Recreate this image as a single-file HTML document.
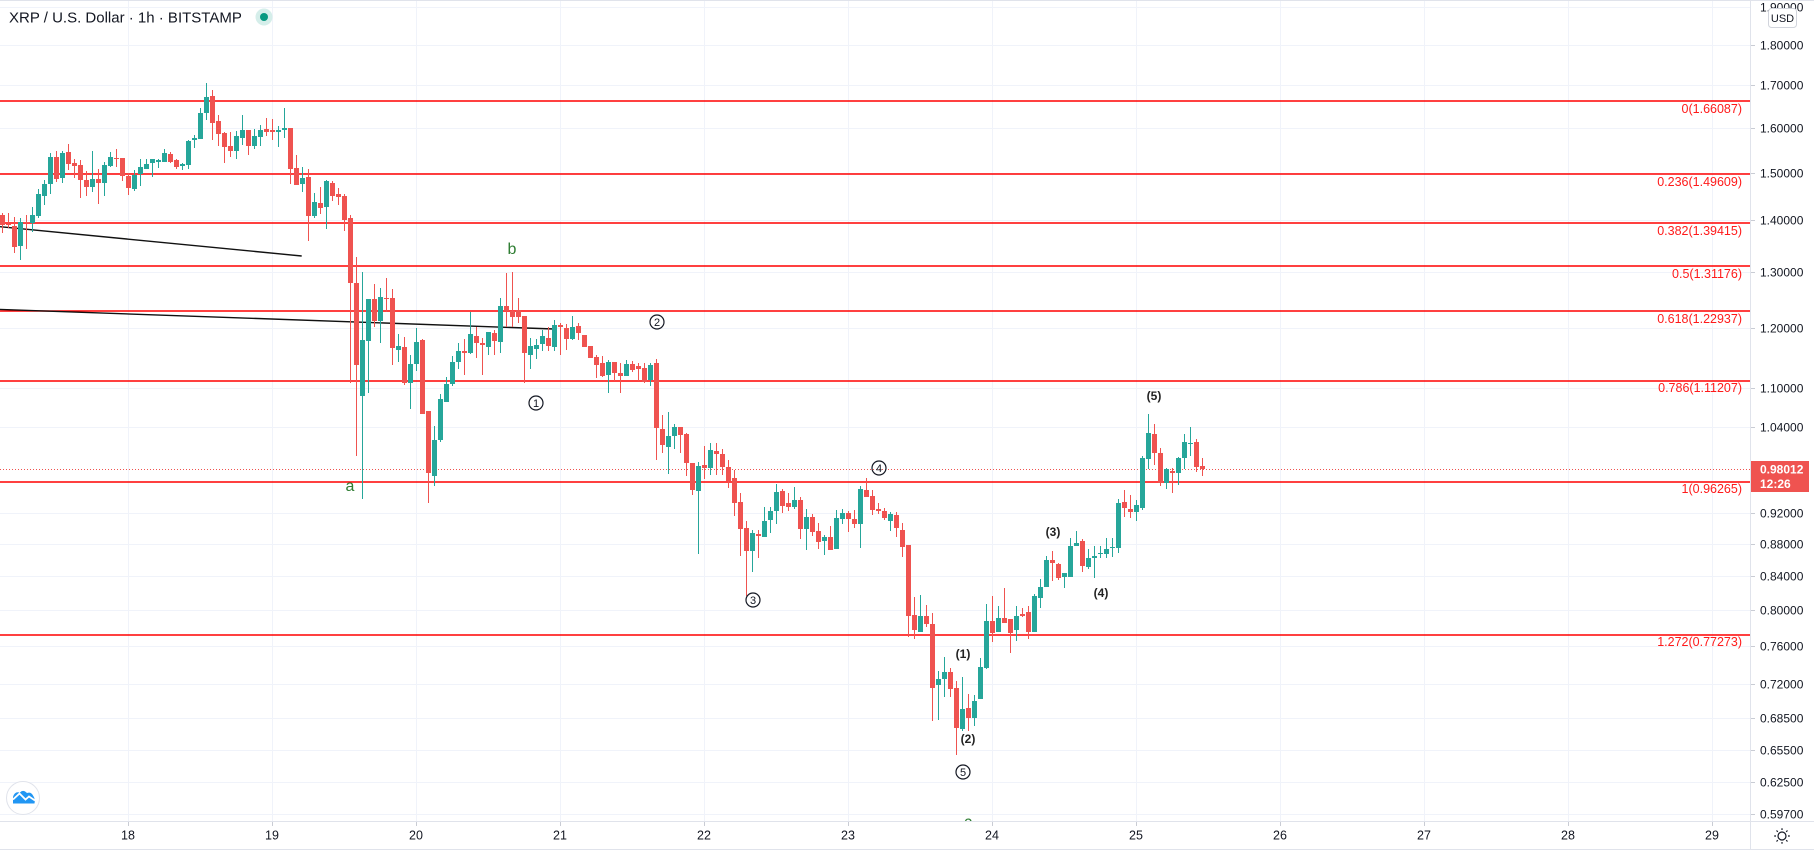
<!DOCTYPE html>
<html><head><meta charset="utf-8"><style>
html,body{margin:0;padding:0;background:#fff;}
body{width:1814px;height:850px;overflow:hidden;}
svg{display:block;font-family:"Liberation Sans",Arial,sans-serif;}
</style></head><body>
<svg width="1814" height="850" viewBox="0 0 1814 850" xmlns="http://www.w3.org/2000/svg">
<defs><clipPath id="pc"><rect x="0" y="0" width="1750" height="821"/></clipPath></defs>
<rect width="1814" height="850" fill="#fff"/>
<!-- grid -->
<g stroke="#f0f3fa" stroke-width="1">
<path d="M0 7.5H1750M0 45.5H1750M0 85.5H1750M0 128.5H1750M0 173.5H1750M0 220.5H1750M0 272.5H1750M0 328.5H1750M0 388.5H1750M0 427.5H1750M0 513.5H1750M0 544.5H1750M0 576.5H1750M0 610.5H1750M0 646.5H1750M0 684.5H1750M0 718.5H1750M0 750.5H1750M0 782.5H1750M0 814.5H1750"/>
<path d="M128.5 0V821M272.5 0V821M416.5 0V821M560.5 0V821M704.5 0V821M848.5 0V821M992.5 0V821M1136.5 0V821M1280.5 0V821M1424.5 0V821M1568.5 0V821M1712.5 0V821"/>
</g>
<g clip-path="url(#pc)">
<!-- fib lines -->
<g stroke="#ff0000" stroke-width="1.4">
<path d="M0 101H1750M0 174H1750M0 223H1750M0 266H1750M0 311H1750M0 381H1750M0 482H1750M0 635H1750"/>
</g>
<g fill="#ff1a1a" font-size="12.5" text-anchor="end">
<text x="1742" y="113">0(1.66087)</text>
<text x="1742" y="186">0.236(1.49609)</text>
<text x="1742" y="235">0.382(1.39415)</text>
<text x="1742" y="278">0.5(1.31176)</text>
<text x="1742" y="323">0.618(1.22937)</text>
<text x="1742" y="392">0.786(1.11207)</text>
<text x="1742" y="493">1(0.96265)</text>
<text x="1742" y="646">1.272(0.77273)</text>
</g>
<!-- current price dotted -->
<path d="M0 469.5H1750" stroke="#ef5350" stroke-width="1" stroke-dasharray="1 2"/>
<!-- trend lines -->
<path d="M0 226.7L301.7 256M0 309.4L554 329" stroke="#111" stroke-width="1.4" fill="none"/>
<!-- candles green -->
<path stroke="#26a69a" stroke-width="1" fill="none" d="M20.5 218V260M32.5 207V232M38.5 189V218M44.5 180V205M50.5 153V194M62.5 151V183M92.5 151V192M104.5 162V196M110.5 152V167M134.5 170V191M140.5 159V186M146.5 159V169M152.5 159V177M158.5 159V168M164.5 149V162M182.5 163V170M188.5 140V169M194.5 135V148M200.5 108V139M206.5 83V120M236.5 131V159M242.5 115V145M254.5 129V149M260.5 125V146M278.5 126V147M284.5 108V138M302.5 167V192M314.5 193V218M326.5 180V229M362.5 272V499M368.5 299V393M380.5 288V343M398.5 334V362M410.5 355V409M416.5 328V371M434.5 426V486M440.5 394V442M446.5 377V402M452.5 356V386M458.5 343V369M470.5 312V354M488.5 332V355M500.5 298V353M530.5 338V369M536.5 339V359M542.5 330V351M554.5 320V351M572.5 316V340M608.5 360V393M626.5 360V376M650.5 363V386M668.5 412V474M674.5 424V449M698.5 462V554M710.5 443V475M752.5 530V572M764.5 507V537M770.5 507V533M776.5 484V524M794.5 487V509M806.5 509V550M824.5 535V555M836.5 510V549M842.5 509V524M860.5 486V548M890.5 512V531M920.5 595V632M938.5 671V720M944.5 657V697M962.5 677V731M974.5 695V726M980.5 658V699M986.5 604V669M998.5 606V632M1016.5 606V641M1034.5 594V632M1040.5 579V608M1046.5 556V587M1064.5 573V588M1070.5 538V577M1076.5 531V546M1088.5 549V569M1094.5 546V578M1100.5 546V558M1106.5 538V558M1112.5 538V557M1118.5 499V553M1136.5 500V521M1142.5 456V510M1148.5 414V469M1166.5 468V489M1178.5 457V485M1184.5 434V469M1190.5 427V456"/>
<path fill="#26a69a" d="M18 222h5v24h-5zM30 215h5v8h-5zM36 194h5v22h-5zM42 184h5v12h-5zM48 157h5v27h-5zM60 153h5v25h-5zM90 179h5v8h-5zM102 165h5v18h-5zM108 157h5v9h-5zM132 175h5v14h-5zM138 167h5v7h-5zM144 164h5v5h-5zM150 159h5v4h-5zM156 160h5v2h-5zM162 153h5v9h-5zM180 164h5v2h-5zM186 141h5v24h-5zM192 138h5v2h-5zM198 113h5v26h-5zM204 97h5v16h-5zM234 136h5v15h-5zM240 130h5v8h-5zM252 136h5v10h-5zM258 130h5v7h-5zM276 130h5v2h-5zM282 128h5v2h-5zM300 178h5v6h-5zM312 202h5v14h-5zM324 181h5v26h-5zM360 340h5v56h-5zM366 299h5v42h-5zM378 297h5v24h-5zM396 346h5v4h-5zM408 364h5v19h-5zM414 342h5v22h-5zM432 440h5v36h-5zM438 399h5v41h-5zM444 384h5v18h-5zM450 362h5v22h-5zM456 351h5v11h-5zM468 334h5v19h-5zM486 332h5v15h-5zM498 306h5v36h-5zM528 346h5v9h-5zM534 345h5v4h-5zM540 336h5v8h-5zM552 325h5v22h-5zM570 327h5v12h-5zM606 362h5v13h-5zM624 364h5v12h-5zM648 365h5v15h-5zM666 436h5v11h-5zM672 427h5v9h-5zM696 466h5v25h-5zM708 450h5v18h-5zM750 533h5v18h-5zM762 521h5v16h-5zM768 511h5v9h-5zM774 492h5v19h-5zM792 500h5v7h-5zM804 517h5v12h-5zM822 537h5v4h-5zM834 518h5v31h-5zM840 513h5v6h-5zM858 489h5v35h-5zM888 514h5v7h-5zM918 616h5v16h-5zM936 679h5v6h-5zM942 672h5v7h-5zM960 709h5v20h-5zM972 701h5v17h-5zM978 667h5v32h-5zM984 621h5v47h-5zM996 618h5v14h-5zM1014 616h5v14h-5zM1032 596h5v36h-5zM1038 587h5v11h-5zM1044 560h5v27h-5zM1062 573h5v4h-5zM1068 546h5v31h-5zM1074 543h5v3h-5zM1086 558h5v9h-5zM1092 556h5v2h-5zM1098 553h5v1h-5zM1104 549h5v5h-5zM1110 547h5v1h-5zM1116 503h5v45h-5zM1134 505h5v7h-5zM1140 458h5v50h-5zM1146 433h5v26h-5zM1164 469h5v14h-5zM1176 458h5v15h-5zM1182 442h5v16h-5zM1188 443h5v1h-5z"/>
<!-- candles red -->
<path stroke="#ef5350" stroke-width="1" fill="none" d="M2.5 213V233M8.5 213V228M14.5 217V253M26.5 215V249M56.5 151V182M68.5 144V170M74.5 159V178M80.5 160V198M86.5 171V196M98.5 169V204M116.5 149V167M122.5 158V181M128.5 173V195M170.5 152V163M176.5 159V169M212.5 90V140M218.5 115V146M224.5 132V163M230.5 132V157M248.5 130V155M266.5 118V136M272.5 119V140M290.5 128V184M296.5 155V185M308.5 169V241M320.5 187V214M332.5 181V201M338.5 188V205M344.5 194V231M350.5 215V383M356.5 257V456M374.5 284V327M386.5 278V312M392.5 289V365M404.5 337V385M422.5 339V414M428.5 411V503M464.5 339V375M476.5 327V358M482.5 338V375M494.5 330V355M506.5 273V327M512.5 272V327M518.5 298V323M524.5 316V383M548.5 327V351M560.5 323V355M566.5 324V350M578.5 323V340M584.5 335V347M590.5 346V358M596.5 355V378M602.5 356V377M614.5 362V381M620.5 363V393M632.5 361V372M638.5 363V381M644.5 363V383M656.5 359V460M662.5 415V453M680.5 427V453M686.5 433V476M692.5 463V495M704.5 446V479M716.5 443V475M722.5 449V475M728.5 460V488M734.5 470V516M740.5 493V556M746.5 521V596M758.5 530V558M782.5 489V513M788.5 493V511M800.5 497V539M812.5 514V536M818.5 523V549M830.5 526V550M848.5 511V532M854.5 510V528M866.5 478V497M872.5 490V515M878.5 503V514M884.5 508V520M896.5 512V537M902.5 523V557M908.5 545V637M914.5 597V639M926.5 605V627M932.5 613V721M950.5 668V697M956.5 681V755M968.5 694V731M992.5 596V642M1004.5 588V623M1010.5 619V653M1022.5 608V617M1028.5 606V639M1052.5 551V581M1058.5 563V580M1082.5 539V572M1124.5 490V517M1130.5 495V518M1154.5 424V465M1160.5 448V486M1172.5 468V493M1196.5 439V472M1202.5 458V476"/>
<path fill="#ef5350" d="M0 215h5v10h-5zM6 224h5v1h-5zM12 226h5v21h-5zM24 222h5v1h-5zM54 157h5v22h-5zM66 152h5v12h-5zM72 163h5v3h-5zM78 165h5v15h-5zM84 180h5v7h-5zM96 179h5v4h-5zM114 158h5v1h-5zM120 158h5v18h-5zM126 176h5v12h-5zM168 154h5v8h-5zM174 160h5v7h-5zM210 96h5v27h-5zM216 121h5v13h-5zM222 133h5v14h-5zM228 146h5v5h-5zM246 130h5v16h-5zM264 129h5v3h-5zM270 130h5v2h-5zM288 128h5v41h-5zM294 168h5v17h-5zM306 177h5v39h-5zM318 203h5v5h-5zM330 183h5v13h-5zM336 194h5v3h-5zM342 196h5v24h-5zM348 218h5v65h-5zM354 283h5v82h-5zM372 299h5v22h-5zM384 298h5v1h-5zM390 298h5v50h-5zM402 347h5v36h-5zM420 340h5v74h-5zM426 411h5v62h-5zM462 351h5v2h-5zM474 336h5v7h-5zM480 343h5v2h-5zM492 333h5v8h-5zM504 306h5v5h-5zM510 311h5v6h-5zM516 310h5v7h-5zM522 316h5v37h-5zM546 338h5v8h-5zM558 325h5v2h-5zM564 328h5v11h-5zM576 326h5v7h-5zM582 335h5v12h-5zM588 346h5v12h-5zM594 357h5v8h-5zM600 363h5v13h-5zM612 362h5v11h-5zM618 373h5v3h-5zM630 364h5v6h-5zM636 366h5v3h-5zM642 368h5v14h-5zM654 363h5v65h-5zM660 429h5v16h-5zM678 427h5v8h-5zM684 434h5v29h-5zM690 463h5v27h-5zM702 465h5v3h-5zM714 451h5v3h-5zM720 454h5v13h-5zM726 467h5v14h-5zM732 478h5v25h-5zM738 502h5v27h-5zM744 528h5v23h-5zM756 534h5v2h-5zM780 491h5v15h-5zM786 503h5v4h-5zM798 500h5v29h-5zM810 517h5v15h-5zM816 531h5v11h-5zM828 537h5v13h-5zM846 513h5v6h-5zM852 519h5v5h-5zM864 490h5v7h-5zM870 496h5v14h-5zM876 509h5v2h-5zM882 511h5v7h-5zM894 515h5v13h-5zM900 530h5v17h-5zM906 545h5v71h-5zM912 615h5v15h-5zM924 616h5v8h-5zM930 624h5v64h-5zM948 672h5v17h-5zM954 688h5v40h-5zM966 708h5v10h-5zM990 621h5v12h-5zM1002 618h5v5h-5zM1008 619h5v14h-5zM1020 614h5v2h-5zM1026 612h5v20h-5zM1050 560h5v3h-5zM1056 564h5v14h-5zM1080 541h5v25h-5zM1122 502h5v6h-5zM1128 509h5v3h-5zM1152 434h5v19h-5zM1158 453h5v30h-5zM1170 471h5v2h-5zM1194 442h5v25h-5zM1200 466h5v3h-5z"/>
<!-- wave labels -->
<g fill="#2e7d32" font-size="16" text-anchor="middle">
<text x="350" y="491">a</text>
<text x="512" y="254">b</text>
<text x="968" y="827">c</text>
</g>
<g fill="none" stroke="#131722" stroke-width="1.2">
<circle cx="536" cy="403" r="7"/>
<circle cx="657" cy="322" r="7"/>
<circle cx="753" cy="600" r="7"/>
<circle cx="879" cy="468" r="7"/>
<circle cx="963" cy="772" r="7"/>
</g>
<g fill="#131722" font-size="11" text-anchor="middle">
<text x="536" y="407">1</text>
<text x="657" y="326">2</text>
<text x="753" y="604">3</text>
<text x="879" y="472">4</text>
<text x="963" y="776">5</text>
</g>
<g fill="#222" font-size="12" text-anchor="middle" font-weight="bold">
<text x="963" y="658">(1)</text>
<text x="968" y="743">(2)</text>
<text x="1053" y="536">(3)</text>
<text x="1101" y="597">(4)</text>
<text x="1154" y="400">(5)</text>
</g>
</g>
<!-- title -->
<text x="9" y="22.5" font-size="15" fill="#131722">XRP / U.S. Dollar · 1h · BITSTAMP</text>
<circle cx="264" cy="17" r="8.5" fill="#d5eeea"/>
<circle cx="264" cy="17" r="4" fill="#089981"/>
<!-- logo -->
<circle cx="23" cy="798" r="16.5" fill="#fff" stroke="#e0e3eb" stroke-width="1"/>
<path d="M13 803.5L13 797Q14.5 791 20 792.5Q23 789 27 793Q31 791.5 33 795.5Q35.5 799 34.5 803.5Z" fill="#2196f3"/>
<path d="M13 799.5L19.5 793.5L25.5 799.5L29 796.5L35 800.5" stroke="#fff" stroke-width="1.8" fill="none"/>
<!-- axes borders -->
<g stroke="#e0e3eb" stroke-width="1">
<path d="M0 0.5H1814M0 821.5H1814M0 849.5H1814M1750.5 0V850"/>
</g>
<!-- price axis ticks -->
<g stroke="#c9ccd4" stroke-width="1">
<path d="M1751 45.5h4M1751 85.5h4M1751 128.5h4M1751 173.5h4M1751 220.5h4M1751 272.5h4M1751 328.5h4M1751 388.5h4M1751 427.5h4M1751 513.5h4M1751 544.5h4M1751 576.5h4M1751 610.5h4M1751 646.5h4M1751 684.5h4M1751 718.5h4M1751 750.5h4M1751 782.5h4M1751 814.5h4"/>
<path d="M128.5 822v4M272.5 822v4M416.5 822v4M560.5 822v4M704.5 822v4M848.5 822v4M992.5 822v4M1136.5 822v4M1280.5 822v4M1424.5 822v4M1568.5 822v4M1712.5 822v4"/>
</g>
<g fill="#131722" font-size="12">
<text x="1760" y="11.5">1.90000</text>
<text x="1760" y="49.5">1.80000</text>
<text x="1760" y="89.5">1.70000</text>
<text x="1760" y="132.5">1.60000</text>
<text x="1760" y="177.5">1.50000</text>
<text x="1760" y="224.5">1.40000</text>
<text x="1760" y="276.5">1.30000</text>
<text x="1760" y="332.5">1.20000</text>
<text x="1760" y="392.5">1.10000</text>
<text x="1760" y="431.5">1.04000</text>
<text x="1760" y="517.5">0.92000</text>
<text x="1760" y="548.5">0.88000</text>
<text x="1760" y="580.5">0.84000</text>
<text x="1760" y="614.5">0.80000</text>
<text x="1760" y="650.5">0.76000</text>
<text x="1760" y="688.5">0.72000</text>
<text x="1760" y="722.5">0.68500</text>
<text x="1760" y="754.5">0.65500</text>
<text x="1760" y="786.5">0.62500</text>
<text x="1760" y="818.5">0.59700</text>
</g>
<!-- USD badge -->
<rect x="1768.5" y="8.5" width="28" height="19" rx="3" fill="#fff" stroke="#d1d4dc"/>
<text x="1782.5" y="22" font-size="11" fill="#131722" text-anchor="middle">USD</text>
<!-- price box -->
<rect x="1751" y="461" width="58" height="31" fill="#ef5350"/>
<text x="1760" y="473.5" font-size="12" fill="#fff" font-weight="bold">0.98012</text>
<text x="1760" y="488" font-size="12" fill="#fff" font-weight="bold">12:26</text>
<!-- time labels -->
<g fill="#131722" font-size="12.5" text-anchor="middle">
<text x="128" y="839.5">18</text>
<text x="272" y="839.5">19</text>
<text x="416" y="839.5">20</text>
<text x="560" y="839.5">21</text>
<text x="704" y="839.5">22</text>
<text x="848" y="839.5">23</text>
<text x="992" y="839.5">24</text>
<text x="1136" y="839.5">25</text>
<text x="1280" y="839.5">26</text>
<text x="1424" y="839.5">27</text>
<text x="1568" y="839.5">28</text>
<text x="1712" y="839.5">29</text>
</g>
<!-- gear -->
<g stroke="#131722" stroke-width="1.2" fill="none">
<circle cx="1782" cy="836" r="4"/>
<path d="M1782 830v-1.8M1782 842v1.8M1776 836h-1.8M1788 836h1.8M1777.8 831.8l-1.3-1.3M1786.2 840.2l1.3 1.3M1786.2 831.8l1.3-1.3M1777.8 840.2l-1.3 1.3"/>
</g>
</svg>
</body></html>
